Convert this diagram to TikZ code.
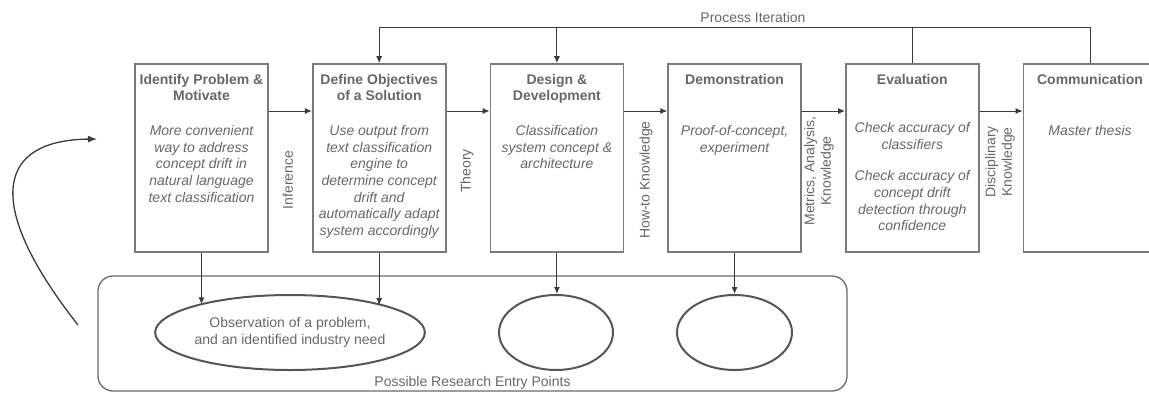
\documentclass[tikz,border=0pt]{standalone}
\usepackage{fontspec}
\setmainfont{Liberation Sans}
\usetikzlibrary{arrows.meta,shapes.geometric}

\definecolor{boxgray}{HTML}{7A7A7A}
\definecolor{txtgray}{HTML}{666666}
\definecolor{linegray}{HTML}{3A3A3A}
\definecolor{ellgray}{HTML}{555555}
\definecolor{framegray}{HTML}{6A6A6A}

\tikzset{
  stepbox/.style={draw=boxgray, line width=1.6pt, minimum width=133pt, minimum height=188pt, inner sep=0pt},
  ttl/.style={font=\bfseries\fontsize{14}{16.6}\selectfont, text=txtgray, align=center, anchor=north, inner sep=0pt},
  bdy/.style={font=\itshape\fontsize{14}{16.7}\selectfont, text=txtgray, align=center, anchor=north, inner sep=0pt},
  lbl/.style={font=\fontsize{14}{16.7}\selectfont, text=txtgray, align=center, inner sep=0pt},
  flow/.style={rotate=90, lbl},
  plain/.style={draw=linegray, line width=1pt},
  conn/.style={draw=linegray, line width=1pt, -{Latex[length=7pt,width=6pt]}},
  entry/.style={ellipse, draw=ellgray, line width=2pt, inner sep=0pt, minimum height=75pt},
  frame/.style={draw=framegray, line width=1.3pt, rounded corners=15pt},
  curv/.style={draw=linegray, line width=1.3pt, -{Latex[length=9pt,width=7pt]}}
}

\begin{document}
\begin{tikzpicture}[x=1pt, y=-1pt]
\useasboundingbox (0,0) rectangle (1149,392);

% research process steps
\node[stepbox] (s1) at (201.5,158) {};
\node[stepbox] (s2) at (379.2,158) {};
\node[stepbox] (s3) at (556.9,158) {};
\node[stepbox] (s4) at (734.6,158) {};
\node[stepbox] (s5) at (912.3,158) {};
\node[stepbox] (s6) at (1090,158) {};

% step titles
\node[ttl] (t1) at (201.5,74) {Identify Problem \&\\Motivate};
\node[ttl] (t2) at (379.2,74) {Define Objectives\\of a Solution};
\node[ttl] (t3) at (556.9,74) {Design \&\\Development};
\node[ttl] (t4) at (734.6,74) {Demonstration};
\node[ttl] (t5) at (912.3,74) {Evaluation};
\node[ttl] (t6) at (1090,74) {Communication};

% step descriptions
\node[bdy] (b1) at (201.5,125) {More convenient\\way to address\\concept drift in\\natural language\\text classification};
\node[bdy] (b2) at (379.2,125) {Use output from\\text classification\\engine to\\determine concept\\drift and\\automatically adapt\\system accordingly};
\node[bdy] (b3) at (556.9,125) {Classification\\system concept \&\\architecture};
\node[bdy] (b4) at (734.6,125) {Proof-of-concept,\\experiment};
\node[bdy] (b5) at (912.3,122) {Check accuracy of\\classifiers\\[15pt]Check accuracy of\\concept drift\\detection through\\confidence};
\node[bdy] (b6) at (1090,125) {Master thesis};

% flow between steps
\coordinate (ay) at (0,111);
\draw[conn] (s1.east |- ay) -- (s2.west |- ay);
\draw[conn] (s2.east |- ay) -- (s3.west |- ay);
\draw[conn] (s3.east |- ay) -- (s4.west |- ay);
\draw[conn] (s4.east |- ay) -- (s5.west |- ay);
\draw[conn] (s5.east |- ay) -- (s6.west |- ay);

\node[flow] (f1) at (288,180) {Inference};
\node[flow] (f2) at (467,171) {Theory};
\node[flow] (f3) at (646,180) {How-to Knowledge};
\node[flow] (f4) at (819,171) {Metrics, Analysis,\\Knowledge};
\node[flow] (f5) at (1000,162) {Disciplinary\\Knowledge};

% iteration loop
\coordinate (pi) at (753,27);
\node[lbl] (it) at (753,17) {Process Iteration};
\draw[plain] (s6.north) -- (s6.north |- pi) -- (s2.north |- pi);
\draw[plain] (s5.north) -- (s5.north |- pi);
\draw[conn] (s2.north |- pi) -- (s2.north);
\draw[conn] (s3.north |- pi) -- (s3.north);

% entry points
\node[frame, minimum width=749pt, minimum height=115pt, inner sep=0pt] (ep) at (472.5,333.5) {};
\node[lbl] (epl) at (472.5,383) {Possible Research Entry Points};
\node[entry, minimum width=253pt, lbl, draw=ellgray, line width=2pt] (e1) at (290,332.5) {Observation of a problem,\\and an identified industry need};
\node[entry, minimum width=114pt] (e2) at (556,332.5) {};
\node[entry, minimum width=115pt] (e3) at (734.5,332.5) {};

\draw[conn] (s1.south) -- (s1.south |- e1.163.2);
\draw[conn] (s2.south) -- (s2.south |- e1.16.6);
\draw[conn] (s3.south) -- (s3.south |- e2.north);
\draw[conn] (s4.south) -- (s4.south |- e3.north);

% entry arrow
\coordinate (cs) at (78,325);
\coordinate (ce) at (97,139);
\draw[curv] (cs) .. controls (-20,200) and (0,140) .. (ce);
\end{tikzpicture}
\end{document}
